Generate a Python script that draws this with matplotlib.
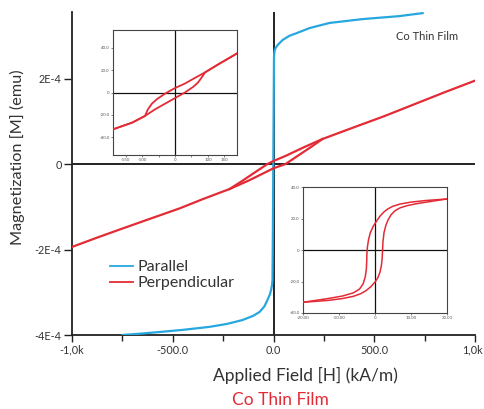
import matplotlib
matplotlib.use("Agg")
import matplotlib.pyplot as plt
from matplotlib.ticker import FixedLocator, FixedFormatter
from matplotlib.transforms import ScaledTranslation

plt.rcParams['font.family'] = ['Lato', 'DejaVu Sans']

BLUE = "#27a7df"
RED = "#e32b35"
TXT = "#333333"

# Parallel field sweep (H in kA/m, M in emu)
par_H = [-750, -650, -566, -450, -318, -230, -154, -100, -69, -45, -30, -18, -12,
         -7, -5, -3, -1, 1, 2.5, 4, 6, 10, 20, 45, 79, 114, 179, 278, 442, 625, 740]
par_M = [-4.00e-4, -3.965e-4, -3.93e-4, -3.88e-4, -3.81e-4, -3.74e-4, -3.65e-4,
         -3.55e-4, -3.46e-4, -3.33e-4, -3.18e-4, -3.05e-4, -2.95e-4,
         -2.82e-4, -2.71e-4, -1.50e-4, 0.0, 1.50e-4, 2.50e-4, 2.60e-4, 2.66e-4,
         2.71e-4, 2.78e-4, 2.90e-4, 3.00e-4, 3.06e-4, 3.18e-4, 3.30e-4, 3.39e-4,
         3.46e-4, 3.53e-4]

# Perpendicular loop: descending branch
perp_dn_H = [1000, 850, 700, 550, 400, 243, 150, 60, 0, -30, -100, -160, -218,
             -350, -467, -600, -750, -880, -1000]
perp_dn_M = [1.95e-4, 1.68e-4, 1.40e-4, 1.12e-4, 0.86e-4, 0.585e-4, 0.39e-4, 0.19e-4,
             0.07e-4, 0.0, -0.22e-4, -0.41e-4, -0.585e-4,
             -0.82e-4, -1.04e-4, -1.26e-4, -1.51e-4, -1.73e-4, -1.94e-4]
# Perpendicular loop: ascending branch (between the closure points)
perp_up_H = [-218, -120, 0, 60, 120, 190, 243]
perp_up_M = [-0.585e-4, -0.38e-4, -0.10e-4, 0.0, 0.19e-4, 0.41e-4, 0.585e-4]

# Inset: close-up of the perpendicular loop
in1_dn_x = [188, 130, 91, 60, 30, 0, -30, -55, -70, -82, -91, -130, -188]
in1_dn_y = [35, 25, 18, 13, 8, 4, -1, -6, -10, -15, -21, -27, -33]
in1_up_x = [-188, -130, -91, -60, -30, 0, 30, 55, 70, 82, 91, 130, 188]
in1_up_y = [-33, -27, -21, -15, -10, -5, 0, 5, 9, 14, 18, 25, 35]

# Inset: square loop
in2_dn_x = [20, 14, 10, 7, 5, 3.5, 2.5, 1.5, 0.5, -0.5, -1.3, -1.8, -2.1, -2.25,
            -2.3, -2.4, -2.7, -3.3, -4.3, -6, -9, -13, -20]
in2_dn_y = [32.4, 31.4, 30.4, 29.2, 27.8, 26.0, 24.2, 21.8, 18.6, 15.0, 11.0, 6.5,
            2.0, -2.5, -7, -12, -17, -21.5, -24.8, -27.2, -29.2, -30.8, -33.2]
in2_up_x = [-20, -13, -9, -6, -4, -2.5, -1.2, 0, 0.8, 1.4, 1.8, 2.0, 2.1, 2.2,
            2.5, 3.0, 3.6, 4.5, 5.6, 7, 9, 12, 20]
in2_up_y = [-33.2, -32.0, -30.8, -29.4, -27.8, -25.8, -23.4, -20.4, -17.5, -14,
            -9.5, -5, 0, 5, 11, 15.5, 19, 22.5, 25, 26.8, 28.2, 29.6, 32.4]

x_ticks = [-1000, -500, 0, 500, 1000]
x_tick_labels = ["-1,0k", "-500.0", "0.0", "500.0", "1,0k"]
x_minor = [-750, -250, 250, 750]
y_ticks = [-4e-4, -2e-4, 0, 2e-4]
y_tick_labels = ["-4E-4", "-2E-4", "0", "2E-4"]

W, H = 484, 409
fig = plt.figure(figsize=(W / 100, H / 100), dpi=100)


def fx(px):
    return px / W


def fy(py):
    return 1 - py / H


ax = fig.add_axes([fx(72), fy(335), (475 - 72) / W, (335 - 12) / H])
ax.set_xlim(-1000, 1000)
ax.set_ylim(-4e-4, 3.556e-4)
for s in ("top", "right"):
    ax.spines[s].set_visible(False)
for s in ("left", "bottom"):
    ax.spines[s].set_linewidth(1.3)
    ax.spines[s].set_color("#222222")
ax.axhline(0, color="#111111", lw=1.3, zorder=1)
ax.axvline(0, color="#111111", lw=1.3, zorder=1)

ax.xaxis.set_major_locator(FixedLocator(x_ticks))
ax.xaxis.set_major_formatter(FixedFormatter(x_tick_labels))
ax.xaxis.set_minor_locator(FixedLocator(x_minor))
ax.yaxis.set_major_locator(FixedLocator(y_ticks))
ax.yaxis.set_major_formatter(FixedFormatter(y_tick_labels))
ax.tick_params(axis="both", which="both", direction="out", color="#222222",
               labelcolor=TXT, labelsize=7.8, width=1.0)
ax.tick_params(axis="x", which="major", length=5, pad=2)
ax.tick_params(axis="x", which="minor", length=4)
ax.tick_params(axis="y", which="major", length=6, pad=1.5)

fig.canvas.draw()
last = ax.get_xticklabels()[-1]
last.set_transform(last.get_transform() + ScaledTranslation(-3 / 100, 0, fig.dpi_scale_trans))

ln_b, = ax.plot(par_H, par_M, color=BLUE, lw=1.6, zorder=3,
                solid_joinstyle="round", label="Parallel")
ln_r, = ax.plot(perp_dn_H, perp_dn_M, color=RED, lw=1.6, zorder=3,
                solid_joinstyle="round", label="Perpendicular")
ax.plot(perp_up_H, perp_up_M, color=RED, lw=1.6, zorder=3, solid_joinstyle="round")

leg = ax.legend(handles=[ln_b, ln_r], loc="upper left",
                bbox_to_anchor=(fx(110), fy(260)), bbox_transform=fig.transFigure,
                frameon=False, fontsize=11.5, handlelength=1.45, handletextpad=0.25,
                labelspacing=0.12, borderpad=0, borderaxespad=0)
for t in leg.get_texts():
    t.set_color(TXT)
for h in leg.legend_handles:
    h.set_linewidth(1.3)

fig.text(fx(17), fy(157), "Magnetization [M] (emu)", rotation=90, ha="center",
         va="center", fontsize=11.7, color=TXT)
fig.text(fx(305), fy(375), "Applied Field [H] (kA/m)", ha="center", va="center",
         fontsize=12.5, color=TXT)
fig.text(fx(280), fy(400), "Co Thin Film", ha="center", va="center",
         fontsize=12.5, color=RED)
fig.text(fx(427), fy(36), "Co Thin Film", ha="center", va="center",
         fontsize=8, color=TXT)


def style_inset(a):
    for s in a.spines.values():
        s.set_linewidth(0.8)
        s.set_color("#444444")
    a.axhline(0, color="#111111", lw=0.9, zorder=1)
    a.axvline(0, color="#111111", lw=0.9, zorder=1)
    a.tick_params(axis="both", which="both", direction="out", length=1.5,
                  width=0.5, labelsize=3.2, labelcolor="#555555", pad=1,
                  color="#555555")


ins1 = fig.add_axes([fx(113), fy(155), (237 - 113) / W, (155 - 30) / H])
ins1.set_xlim(-188, 188)
ins1.set_ylim(-56, 56)
ins1.set_xticks([-150, -100, 0, 100, 150])
ins1.set_xticklabels(["-150", "-100", "0", "100", "150"])
ins1.set_xticks([-50, 50], minor=True)
ins1.set_yticks([-40, -20, 0, 20, 40])
ins1.set_yticklabels(["-40.0", "-20.0", "0", "20.0", "40.0"])
style_inset(ins1)
ins1.plot(in1_dn_x, in1_dn_y, color=RED, lw=1.3, zorder=3, solid_joinstyle="round")
ins1.plot(in1_up_x, in1_up_y, color=RED, lw=1.3, zorder=3, solid_joinstyle="round")

ins2 = fig.add_axes([fx(303), fy(313), (447 - 303) / W, (313 - 187) / H])
ins2.set_xlim(-20, 20)
ins2.set_ylim(-40, 40)
ins2.set_xticks([-20, -10, 0, 10, 20])
ins2.set_xticklabels(["-20.00", "-10.00", "0", "10.00", "20.00"])
ins2.set_yticks([-40, -20, 0, 20, 40])
ins2.set_yticklabels(["-40.0", "-20.0", "0", "20.0", "40.0"])
style_inset(ins2)
ins2.plot(in2_dn_x, in2_dn_y, color=RED, lw=1.1, zorder=3, solid_joinstyle="round")
ins2.plot(in2_up_x, in2_up_y, color=RED, lw=1.1, zorder=3, solid_joinstyle="round")

fig.savefig("out.png", dpi=100)
